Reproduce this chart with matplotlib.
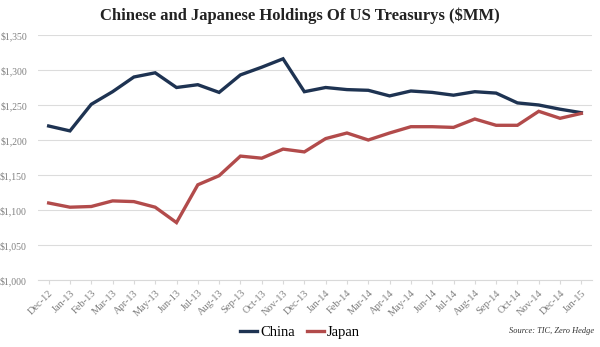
import numpy as np
import matplotlib
matplotlib.use("Agg")
from matplotlib import pyplot as plt

months = ["Dec-12", "Jan-13", "Feb-13", "Mar-13", "Apr-13", "May-13", "Jun-13",
          "Jul-13", "Aug-13", "Sep-13", "Oct-13", "Nov-13", "Dec-13", "Jan-14",
          "Feb-14", "Mar-14", "Apr-14", "May-14", "Jun-14", "Jul-14", "Aug-14",
          "Sep-14", "Oct-14", "Nov-14", "Dec-14", "Jan-15"]

china = [1220, 1213, 1251, 1269, 1290, 1296, 1275, 1279, 1268, 1293, 1304, 1316,
         1269, 1275, 1272, 1271, 1263, 1270, 1268, 1264, 1269, 1267, 1253, 1250,
         1244, 1239]

japan = [1110, 1104, 1105, 1113, 1112, 1104, 1082, 1136, 1149, 1177, 1174, 1187,
         1183, 1202, 1210, 1200, 1210, 1219, 1219, 1218, 1230, 1221, 1221, 1241,
         1231, 1238]

yticks = [1000, 1050, 1100, 1150, 1200, 1250, 1300, 1350]

plt.rcParams['font.family'] = ['Liberation Serif', 'DejaVu Serif']

fig = plt.figure(figsize=(6.0, 3.47), dpi=100)
ax = fig.add_axes([38/600, 1-280/347, 554/600, 245/347])

x = np.arange(len(months))
ax.plot(x, china, color='#1e3352', lw=2.4, label='China', solid_joinstyle='miter')
ax.plot(x, japan, color='#b24b4b', lw=2.4, label='Japan', solid_joinstyle='miter')

ax.set_xlim(-0.5, len(months) - 0.5)
ax.set_ylim(1000, 1350)
ax.set_yticks(yticks)
ax.set_yticklabels(["${:,}".format(v) for v in yticks], fontsize=7, color='#7f7f7f')
ax.set_xticks(x)
ax.set_xticklabels(months, rotation=45, ha='right', rotation_mode='anchor',
                   fontsize=7.5, color='#7f7f7f')
ax.tick_params(axis='y', length=0, pad=8)
ax.tick_params(axis='x', length=3, color='#d9d9d9', pad=3)
ax.grid(axis='y', color='#dcdcdc', lw=0.8)
ax.set_axisbelow(True)
for s in ['top', 'right', 'left']:
    ax.spines[s].set_visible(False)
ax.spines['bottom'].set_color('#d9d9d9')

fig.text(0.5, 0.955, "Chinese and Japanese Holdings Of US Treasurys ($MM)",
         ha='center', va='center', fontsize=12, fontweight='bold', color='#222222')

leg = fig.legend(loc='center', bbox_to_anchor=(0.5, 1-332/347), ncol=2, frameon=False,
                 fontsize=10.5, handlelength=1.2, handletextpad=0.2, columnspacing=0.8)
fig.text(0.99, 1-331/347, "Source: TIC, Zero Hedge", ha='right', va='center',
         fontsize=6, style='italic', color='#333333')

fig.savefig("out.png", dpi=100)
